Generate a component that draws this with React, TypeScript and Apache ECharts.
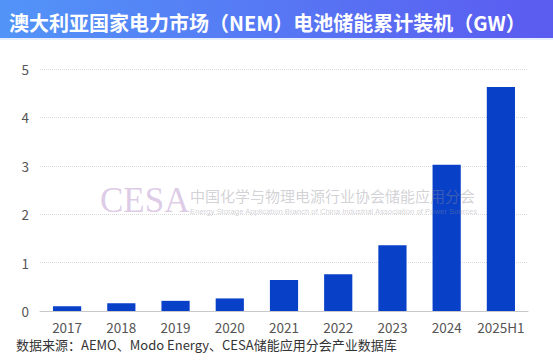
import React, { useEffect, useRef } from "react";
import * as echarts from "echarts";

const categories = ["2017", "2018", "2019", "2020", "2021", "2022", "2023", "2024", "2025H1"];
const capacityGW = [0.1, 0.16, 0.21, 0.26, 0.64, 0.76, 1.36, 3.02, 4.63];
const titleText = "澳大利亚国家电力市场（NEM）电池储能累计装机（GW）";
const sourceText = "数据来源：AEMO、Modo Energy、CESA储能应用分会产业数据库";
const wmMain = "CESA";
const wmCn = "中国化学与物理电源行业协会储能应用分会";
const wmEn = "Energy Storage Application Branch of China Industrial Association of Power Sources";

export default function App() {
  const ref = useRef<HTMLDivElement>(null);
  useEffect(() => {
    document.body.style.margin = "0";
    const chart = echarts.init(ref.current!, null, { renderer: "svg" });
    const font = "'Noto Sans CJK SC', 'Noto Sans', sans-serif";
    chart.setOption({
      animation: false,
      backgroundColor: "#ffffff",
      title: {
        text: titleText,
        left: 4,
        top: 7,
        textStyle: { color: "#ffffff", fontSize: 20, fontWeight: "bold", fontFamily: font },
      },
      grid: { left: 40, right: 25, top: 69, bottom: 50 },
      xAxis: {
        type: "category",
        data: categories,
        axisLine: { lineStyle: { color: "#c8c8c8" } },
        axisTick: { show: false },
        axisLabel: { color: "#555", fontSize: 13.5, margin: 9, interval: 0, fontFamily: font },
      },
      yAxis: {
        type: "value",
        min: 0,
        max: 5,
        interval: 1,
        axisLine: { show: false },
        axisTick: { show: false },
        axisLabel: { color: "#555", fontSize: 13.5, margin: 11, fontFamily: font },
        splitLine: { lineStyle: { color: "#dcdcdc", type: "dotted" } },
      },
      series: [
        {
          type: "bar",
          data: capacityGW,
          barWidth: "52%",
          itemStyle: { color: "#0840c8" },
        },
      ],
      graphic: [
        {
          type: "rect",
          left: 0,
          top: 0,
          z: -1,
          shape: { width: 553, height: 38 },
          style: {
            fill: new echarts.graphic.LinearGradient(0, 0, 1, 0, [
              { offset: 0, color: "#5294f8" },
              { offset: 1, color: "#5b5bf0" },
            ]),
          },
        },
        {
          type: "rect",
          left: 0,
          top: 38,
          z: -1,
          shape: { width: 553, height: 2 },
          style: { fill: "#e6eefc" },
        },
        {
          type: "text",
          left: 16,
          top: 338,
          style: { text: sourceText, fill: "#333", fontSize: 13, fontFamily: font },
        },
        {
          type: "text",
          left: 100,
          top: 183,
          z: 100,
          style: {
            text: wmMain,
            fontSize: 35,
            fontFamily: "'Liberation Serif', 'DejaVu Serif', serif",
            fill: "rgba(200,170,215,0.6)",
          },
        },
        {
          type: "text",
          left: 190,
          top: 188,
          z: 100,
          style: { text: wmCn, fontSize: 15, fill: "rgba(140,140,150,0.4)", fontFamily: font },
        },
        {
          type: "text",
          left: 190,
          top: 207,
          z: 100,
          style: { text: wmEn, fontSize: 7.7, fill: "rgba(140,140,150,0.4)", fontFamily: "Arial, 'Liberation Sans', sans-serif" },
        },
      ],
    });
    return () => chart.dispose();
  }, []);
  return <div ref={ref} style={{ width: 553, height: 361, position: "absolute", left: 0, top: 0 }} />;
}
